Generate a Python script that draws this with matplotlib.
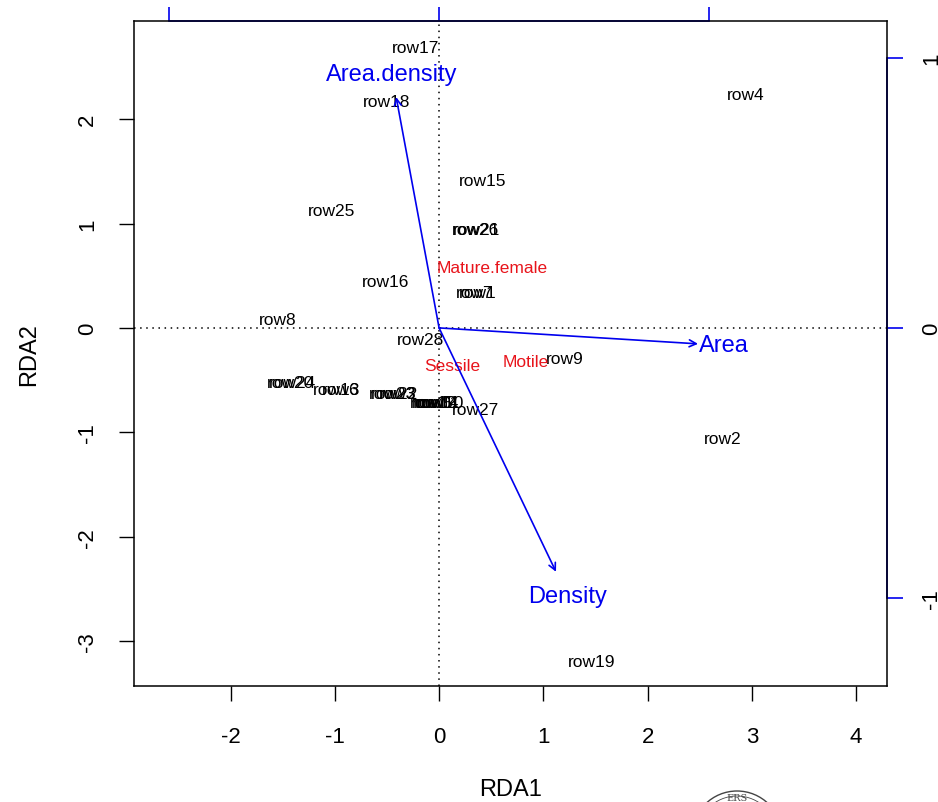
import matplotlib
matplotlib.use("Agg")
import matplotlib.pyplot as plt
from matplotlib.patches import Circle
import numpy as np

plt.rcParams['font.family'] = ['Liberation Sans', 'DejaVu Sans']
plt.rcParams['axes.unicode_minus'] = False

# Site scores (RDA1, RDA2)
site_names = ["row1", "row2", "row3", "row4", "row5", "row6", "row7", "row8", "row9", "row10",
              "row11", "row12", "row13", "row14", "row15", "row16", "row17", "row18", "row19", "row20",
              "row21", "row22", "row23", "row24", "row25", "row26", "row27", "row28"]
site_x = [0.37, 2.72, -0.40, 2.94, -0.04, -0.94, 0.34, -1.55, 1.21, 0.01,
          -0.02, -0.05, -0.98, -0.03, 0.42, -0.51, -0.23, -0.50, 1.46, -1.43,
          0.36, -0.43, -0.45, -1.41, -1.03, 0.35, 0.35, -0.18]
site_y = [0.34, -1.06, -0.63, 2.24, -0.71, -0.59, 0.34, 0.08, -0.29, -0.71,
          -0.71, -0.71, -0.59, -0.71, 1.41, 0.44, 2.69, 2.17, -3.20, -0.52,
          0.94, -0.63, -0.63, -0.52, 1.12, 0.94, -0.78, -0.11]

# Species scores
species_names = ["Mature.female", "Sessile", "Motile"]
species_x = [0.51, 0.13, 0.83]
species_y = [0.58, -0.36, -0.32]

# Biplot arrows (constraining variables), in biplot-axis units
env_names = ["Area.density", "Area", "Density"]
env_x = [-0.159, 0.959, 0.433]
env_y = [0.854, -0.059, -0.902]

mul = 2.59

fig = plt.figure(figsize=(9.38, 8.03), dpi=100)
ax = fig.add_axes([0.1429, 0.1445, 0.8028, 0.8281])
ax.set_xlim(-2.926, 4.297)
ax.set_ylim(-3.43, 2.94)

ax.axhline(0, color='black', linestyle=(0, (1, 3)), lw=1.1, zorder=1)
ax.axvline(0, color='black', linestyle=(0, (1, 3)), lw=1.1, zorder=1)

for n, x, y in zip(site_names, site_x, site_y):
    ax.text(x, y, n, ha='center', va='center', fontsize=12.5, color='black', zorder=3)

for n, x, y in zip(species_names, species_x, species_y):
    ax.text(x, y, n, ha='center', va='center', fontsize=12.5, color='#E8141B', zorder=3)

for n, x, y in zip(env_names, env_x, env_y):
    ax.annotate('', xy=(x * mul, y * mul), xytext=(0, 0),
                arrowprops=dict(arrowstyle='->,head_length=0.5,head_width=0.25',
                                color='#0000EE', lw=1.2, shrinkA=0, shrinkB=0), zorder=4)
    ax.text(1.1 * x * mul, 1.1 * y * mul, n, ha='center', va='center',
            fontsize=17, color='#0000EE', zorder=4)

ax.set_xticks([-2, -1, 0, 1, 2, 3, 4])
ax.set_yticks([-3, -2, -1, 0, 1, 2])
ax.tick_params(axis='x', length=11, width=1, pad=18, labelsize=16)
ax.tick_params(axis='y', length=11, width=1, pad=15, labelsize=16)
for lab in ax.get_yticklabels():
    lab.set_rotation(90)
    lab.set_va('center')
for s in ax.spines.values():
    s.set_linewidth(1.1)

ax.set_xlabel('RDA1', fontsize=17)
ax.xaxis.set_label_coords(0.5, -0.138)
ax.set_ylabel('RDA2', fontsize=17)
ax.yaxis.set_label_coords(-0.125, 0.5)

# secondary axes for biplot scale
top = ax.secondary_xaxis('top', functions=(lambda v: v / mul, lambda v: v * mul))
top.set_xticks([-1, 0, 1])
top.spines['top'].set_bounds(-1, 1)
top.spines['top'].set_color('#0000EE')
top.spines['top'].set_linewidth(1.2)
top.tick_params(axis='x', color='#0000EE', length=10, width=1.2, labeltop=False)

right = ax.secondary_yaxis('right', functions=(lambda v: v / mul, lambda v: v * mul))
right.set_yticks([-1, 0, 1])
right.spines['right'].set_bounds(-1, 1)
right.spines['right'].set_color('#0000EE')
right.spines['right'].set_linewidth(1.2)
right.tick_params(axis='y', color='#0000EE', length=11.5, width=1.2, labelsize=16, pad=13)
for lab in right.get_yticklabels():
    lab.set_rotation(90)
    lab.set_va('center')

# partial seal watermark at bottom right (display pixels, origin bottom-left)
seal = Circle((737, -34), 45, transform=None, fill=False, edgecolor='#444444', lw=1.0, clip_on=False)
fig.patches.append(seal)
seal2 = Circle((737, -34), 40, transform=None, fill=False, edgecolor='#444444', lw=0.6, clip_on=False)
fig.patches.append(seal2)
fig.text(737 / 938, 0.0, 'ERS', fontsize=7, family='DejaVu Serif',
         ha='center', va='bottom', color='#444444')

fig.savefig('out.png', dpi=100)
